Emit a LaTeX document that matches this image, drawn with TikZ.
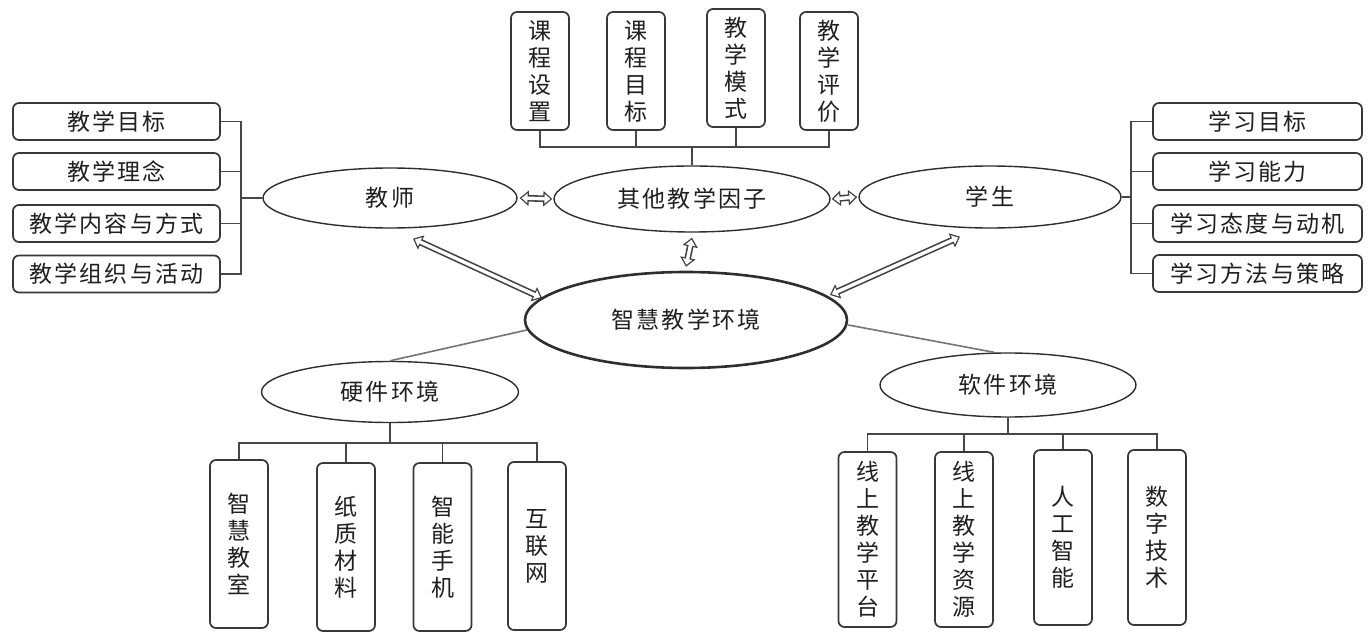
\documentclass[tikz,border=0pt]{standalone}
\usepackage{fontspec}
\setmainfont{Noto Sans CJK SC}
\usetikzlibrary{shapes.geometric,arrows.meta,calc}
\newcommand{\hfnt}{\fontsize{23}{26}\selectfont\addfontfeatures{LetterSpace=10}}
\tikzset{
  box/.style={draw=black!78, line width=1.7pt, rounded corners=6pt, fill=white, inner sep=0pt, text=black!88},
  hbox/.style={box, minimum width=207pt, minimum height=37pt, font=\hfnt},
  vbox/.style={box, minimum width=58pt, align=center, font=\fontsize{23}{27}\selectfont},
  ell/.style={draw=black!82, line width=1.4pt, ellipse, inner sep=0pt, fill=white, text=black!88, font=\hfnt},
  conn/.style={draw=black!72, line width=1.7pt},
  gline/.style={draw=black!55, line width=1.6pt},
  darr/.style={draw=black!75, line width=6.6pt,
    {Triangle[width=15pt,length=9pt]}-{Triangle[width=15pt,length=9pt]},
    postaction={draw=white, line width=3.4pt, shorten <=2pt, shorten >=2pt,
      {Triangle[width=9.6pt,length=5.8pt]}-{Triangle[width=9.6pt,length=5.8pt]}}}
}
\begin{document}
\begin{tikzpicture}[x=1pt,y=-1pt]
\useasboundingbox (0,0) rectangle (1371,639);
% ellipses
\node[ell, minimum width=254pt, minimum height=60pt] (teacher) at (390,198) {教师};
\node[ell, minimum width=276pt, minimum height=66pt] (other) at (692,199) {其他教学因子};
\node[ell, minimum width=262pt, minimum height=62pt] (student) at (990,197) {学生};
\node[ell, line width=2.6pt, minimum width=322pt, minimum height=96pt] (center) at (686,320) {智慧教学环境};
\node[ell, minimum width=257pt, minimum height=61pt] (hw) at (390,392) {硬件环境};
\node[ell, minimum width=256pt, minimum height=64pt] (sw) at (1008,385) {软件环境};
% left boxes
\node[hbox] (lb1) at (116.5,121.5) {教学目标};
\node[hbox] (lb2) at (116.5,171.5) {教学理念};
\node[hbox] (lb3) at (116.5,223.5) {教学内容与方式};
\node[hbox] (lb4) at (116.5,274) {教学组织与活动};
% right boxes
\node[hbox, minimum width=209pt] (rb1) at (1257.5,121.5) {学习目标};
\node[hbox, minimum width=209pt] (rb2) at (1257.5,171.5) {学习能力};
\node[hbox, minimum width=209pt] (rb3) at (1257.5,223.5) {学习态度与动机};
\node[hbox, minimum width=209pt] (rb4) at (1257.5,273.5) {学习方法与策略};
% top boxes
\node[vbox, minimum height=118pt] (tb1) at (540,71) {课\\程\\设\\置};
\node[vbox, minimum height=118pt] (tb2) at (636,71) {课\\程\\目\\标};
\node[vbox, minimum height=118pt] (tb3) at (736,68) {教\\学\\模\\式};
\node[vbox, minimum height=118pt] (tb4) at (829,71) {教\\学\\评\\价};
% hardware boxes
\node[vbox, minimum height=168pt] (hb1) at (239,544) {智\\慧\\教\\室};
\node[vbox, minimum height=168pt] (hb2) at (346,547) {纸\\质\\材\\料};
\node[vbox, minimum height=168pt] (hb3) at (442.5,547) {智\\能\\手\\机};
\node[vbox, minimum height=168pt] (hb4) at (537,546) {互\\联\\网};
% software boxes
\node[vbox, minimum height=175pt] (sb1) at (867.5,539.5) {线\\上\\教\\学\\平\\台};
\node[vbox, minimum height=175pt] (sb2) at (964,539.5) {线\\上\\教\\学\\资\\源};
\node[vbox, minimum height=175pt] (sb3) at (1063,537.5) {人\\工\\智\\能};
\node[vbox, minimum height=175pt] (sb4) at (1157,537.5) {数\\字\\技\\术};
% left bracket
\draw[conn] (teacher.west) -- ++(-21,0) coordinate (lj);
\foreach \b in {lb1,lb2,lb3,lb4} \draw[conn] (\b.east) -| (lj);
% right bracket
\draw[conn] (student.east) -- ++(9,0) coordinate (rj);
\foreach \b in {rb1,rb2,rb3,rb4} \draw[conn] (\b.west) -| (rj);
% top bracket
\draw[conn] (other.north) -- ++(0,-18) coordinate (tj);
\foreach \b in {tb1,tb2,tb3,tb4} \draw[conn] (\b.south) |- (tj);
% hardware tree
\draw[conn] (hw.south) -- ++(0,20) coordinate (hj);
\foreach \b in {hb1,hb2,hb3,hb4} \draw[conn] (\b.north) |- (hj);
% software tree
\draw[conn] (sw.south) -- ++(0,16) coordinate (sj);
\foreach \b in {sb1,sb2,sb3,sb4} \draw[conn] (\b.north) |- (sj);
% lines from center
\draw[gline] ($(center.center)+(-159,10)$) -- (hw.north);
\draw[gline] ($(center.east)+(0,5)$) -- ($(sw.north)+(-14,0)$);
% double arrows
\draw[darr] ($(teacher.east)+(2,0)$) -- ($(other.west)+(-1,0)$);
\draw[darr] ($(other.east)+(1,0)$) -- ($(student.west)+(-1,0)$);
\draw[darr] ($(other.south)+(0,5)$) -- ($(center.north)+(0,-4)$);
\draw[darr] ($(teacher.south)+(23,10)$) -- ($(center.center)+(-144,-22)$);
\draw[darr] ($(student.south)+(-30,8)$) -- ($(center.center)+(144,-25)$);
\end{tikzpicture}
\end{document}
